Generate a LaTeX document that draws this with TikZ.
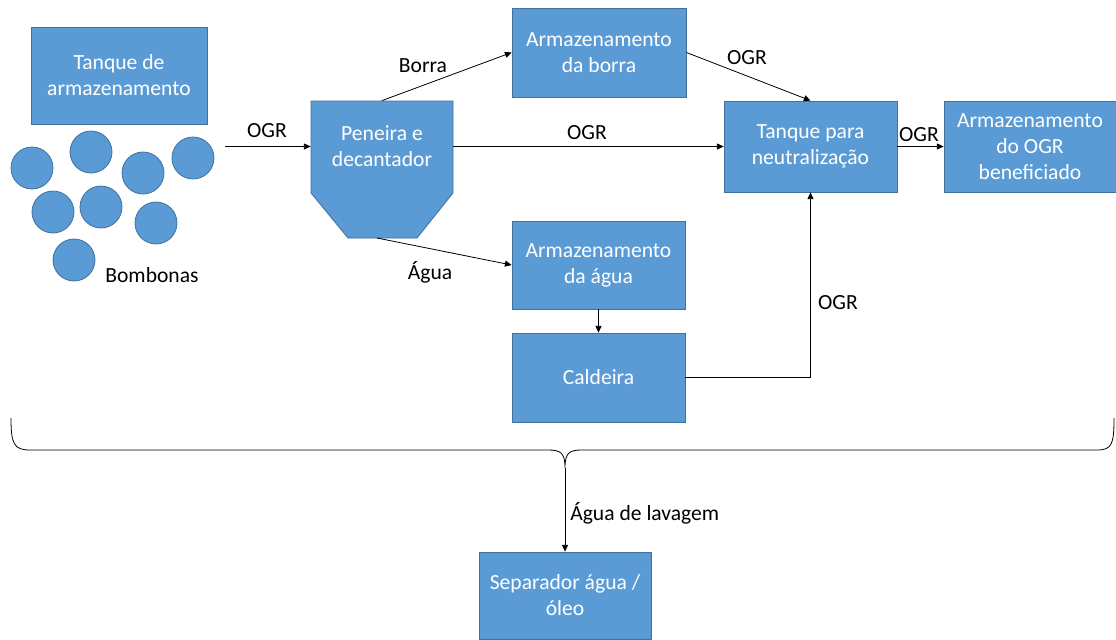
\documentclass[tikz,border=0pt]{standalone}
\usepackage{fontspec}
\setmainfont{Carlito}
\usetikzlibrary{arrows.meta}
\definecolor{boxblue}{HTML}{5B9BD5}
\definecolor{boxline}{HTML}{41719C}
\tikzset{
  box/.style={draw=boxline, line width=0.6pt, fill=boxblue, text=white, align=center,
    inner sep=0pt, font=\fontsize{16.2}{19.5}\selectfont},
  lbl/.style={text=black, inner sep=0pt, font=\fontsize{16.2}{19.5}\selectfont},
  drum/.style={draw=boxline, line width=0.6pt, fill=boxblue},
  flow/.style={draw=black, line width=0.6pt, -{Triangle[length=5pt,width=4.5pt]}},
  plain/.style={draw=black, line width=0.6pt}
}
\begin{document}
\begin{tikzpicture}[x=0.75pt, y=-0.75pt]
\useasboundingbox (0,0) rectangle (1116,639);
% storage tank
\node[box, minimum width=176*0.75pt, minimum height=97*0.75pt] (tanqueA) at (119,75.5) {Tanque de\\armazenamento};
% drums
\foreach \n/\cx/\cy in {d1/32/168, d2/91/152, d3/143/173, d4/193/158, d5/53/212, d6/101/207, d7/156/223, d8/74/260}
  \node[drum, circle, minimum size=42*0.75pt, inner sep=0pt] (\n) at (\cx,\cy) {};
\node[lbl] (bomb) at (152,275) {Bombonas};
% sieve / decanter
\path[draw=boxline, line width=0.6pt, fill=boxblue] (311,101) -- (453,101) -- (453,193) -- (417,238) -- (348,238) -- (311,193) -- cycle;
\node[box, draw=none, fill=none, minimum width=142*0.75pt, minimum height=91*0.75pt] (pen) at (382,146.5) {Peneira e\\decantador};
\coordinate (penbot) at (377,238);
\coordinate (ogrin) at (225,146.5);
% boxes
\node[box, minimum width=174*0.75pt, minimum height=89*0.75pt] (borraS) at (599,52.5) {Armazenamento\\da borra};
\node[box, minimum width=173*0.75pt, minimum height=88*0.75pt] (aguaS) at (598.5,265) {Armazenamento\\da água};
\node[box, minimum width=173*0.75pt, minimum height=89*0.75pt] (cald) at (598.5,377.5) {Caldeira};
\node[box, minimum width=173*0.75pt, minimum height=91*0.75pt] (tneut) at (810.5,146.5) {Tanque para\\neutralização};
\node[box, minimum width=172*0.75pt, minimum height=91*0.75pt] (benef) at (1030,146.5) {Armazenamento\\do OGR\\beneficiado};
\node[box, minimum width=172*0.75pt, minimum height=87*0.75pt] (sep) at (565,595.5) {Separador água /\\óleo};
% connectors
\draw[flow] (ogrin) -- (pen.west);
\draw[flow] (pen.north) -- (borraS.west);
\draw[flow] (penbot) -- (aguaS.west);
\draw[flow] (pen.east) -- (tneut.west);
\draw[flow] (borraS.east) -- (tneut.north);
\draw[flow] (tneut.east) -- (benef.west);
\draw[flow] (aguaS.south) -- (cald.north);
\draw[flow] (cald.east) -| (tneut.south);
% labels
\node[lbl] (l1) at (267,131) {OGR};
\node[lbl] (l2) at (423,66) {Borra};
\node[lbl] (l3) at (587,133) {OGR};
\node[lbl] (l4) at (747,58) {OGR};
\node[lbl] (l5) at (919,135) {OGR};
\node[lbl] (l6) at (430,272) {Água};
\node[lbl] (l7) at (838,303) {OGR};
% brace
\coordinate (cusp) at (565,468);
\draw[plain] (11,418) .. controls (11,444) and (14,450) .. (30,450) -- (548,450)
  .. controls (561,450) and (565,453) .. (cusp)
  .. controls (565,453) and (569,450) .. (582,450) -- (1097,450)
  .. controls (1112,450) and (1114,444) .. (1114,418);
\draw[flow] (cusp) -- (sep.north);
\node[lbl, anchor=west] (l8) at (570,513) {Água de lavagem};
\end{tikzpicture}
\end{document}
